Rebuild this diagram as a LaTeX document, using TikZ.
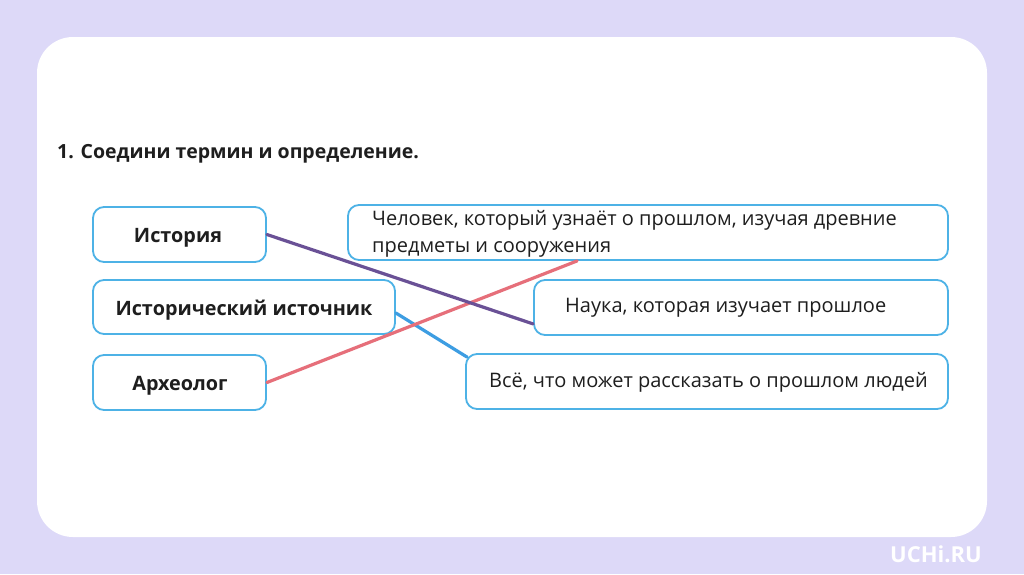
\documentclass[tikz,border=0pt]{standalone}
\usepackage{fontspec}
\setmainfont{Open Sans}
\usetikzlibrary{calc}
\definecolor{bglav}{HTML}{DDD9F8}
\definecolor{boxblue}{HTML}{4DB2E6}
\definecolor{lnpurple}{HTML}{6A5196}
\definecolor{lnred}{HTML}{E66F7A}
\definecolor{lnblue}{HTML}{3D9DE2}
\definecolor{txt}{HTML}{1E1E1E}
\tikzset{
  termbox/.style={draw=boxblue, line width=1.8pt, rounded corners=11pt, fill=white, inner sep=0pt},
  termtext/.style={font=\fontsize{19.8}{24}\selectfont\bfseries, text=txt},
  deftext/.style={font=\fontsize{20}{27}\selectfont, text=txt, anchor=west, align=left, inner sep=0pt},
  conn/.style={line width=3.2pt, line cap=round}
}
\begin{document}
\begin{tikzpicture}[x=1pt,y=-1pt]
\useasboundingbox (0,0) rectangle (1024,574);
\fill[bglav] (0,0) rectangle (1024,574);
\fill[white, rounded corners=36pt] (37,37) rectangle (987,537);
\node[anchor=west, inner sep=0pt, font=\fontsize{19.5}{24}\selectfont\bfseries, text=txt] (title) at (57,154) {1. Соедини термин и определение.};
% left boxes
\node[termbox, minimum width=173pt, minimum height=55pt] (hist) at (179.5,234.5) {};
\node[termtext] (histT) at (178,238) {История};
\node[termbox, minimum width=302pt, minimum height=54pt] (ist) at (244,307) {};
\node[termtext] (istT) at (244,310) {Исторический источник};
\node[termbox, minimum width=173pt, minimum height=55pt] (arch) at (179.5,382.5) {};
\node[termtext] (archT) at (180,386) {Археолог};
% right boxes
\node[termbox, minimum width=600pt, minimum height=55pt] (chel) at (648,232.5) {};
\node[deftext] (chelT) at (372,233.5) {Человек, который узнаёт о прошлом, изучая древние\\предметы и сооружения};
\node[termbox, minimum width=414pt, minimum height=55pt] (nauka) at (741,307.5) {};
\node[deftext] (naukaT) at (565,308) {Наука, которая изучает прошлое};
\node[termbox, minimum width=482pt, minimum height=55pt] (vse) at (707,381.5) {};
\node[deftext] (vseT) at (489,382) {Всё, что может рассказать о прошлом людей};
% connectors
\draw[conn, lnblue] ($(ist.east)+(0pt,-6pt)$) -- ($(vse.north west)+(2pt,-4pt)$);
\draw[conn, lnred] (arch.east) -- ($(chel.south west)+(230pt,0pt)$);
\draw[conn, lnpurple] (hist.east) -- ($(nauka.south west)+(0pt,12pt)$);
% logo
\node[font=\fontsize{22}{26}\selectfont\bfseries, text=white, inner sep=0pt] (logo) at (936,554) {UCHi.RU};
\end{tikzpicture}
\end{document}
